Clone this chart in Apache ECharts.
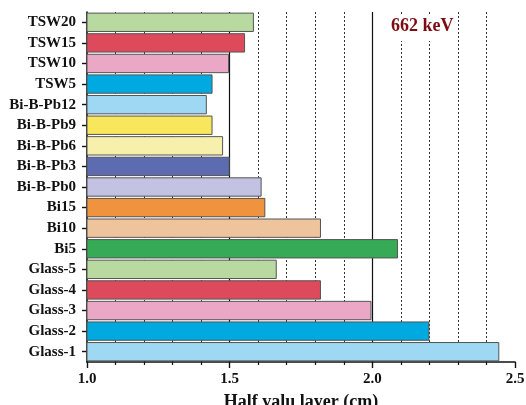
<!DOCTYPE html>
<html>
<head>
<meta charset="utf-8">
<script src="https://cdn.jsdelivr.net/npm/echarts@6/dist/echarts.min.js"></script>
<style>
  html, body { margin: 0; padding: 0; background: #fff; }
  #chart { width: 526px; height: 405px; }
</style>
</head>
<body>
<div id="chart"></div>
<script>
// bottom to top
const samples = [
  'Glass-1', 'Glass-2', 'Glass-3', 'Glass-4', 'Glass-5',
  'Bi5', 'Bi10', 'Bi15',
  'Bi-B-Pb0', 'Bi-B-Pb3', 'Bi-B-Pb6', 'Bi-B-Pb9', 'Bi-B-Pb12',
  'TSW5', 'TSW10', 'TSW15', 'TSW20'
]
const hvl = [
  2.445, 2.20, 1.997, 1.82, 1.665,
  2.09, 1.82, 1.625,
  1.612, 1.50, 1.477, 1.44, 1.42,
  1.44, 1.498, 1.554, 1.585
]
const barColors = [
  '#9fd8f2', '#00a9e0', '#eba8c6', '#dc4a5c', '#b8d9a0',
  '#36aa54', '#eec49c', '#f0933e',
  '#c3c2e2', '#5d6cb1', '#f7efac', '#f8e65c', '#9fd8f2',
  '#00a9e0', '#eba8c6', '#dc4a5c', '#b8d9a0'
]
const energyLabel = '662 keV'
const axisTitle = 'Half valu layer (cm)'

const serif = '"Liberation Serif", "Times New Roman", serif'

const chart = echarts.init(document.getElementById('chart'))

chart.setOption({
  animation: false,
  grid: { left: 87, right: 11, top: 12, bottom: 43, outerBoundsMode: 'none', containLabel: false },
  xAxis: {
    type: 'value',
    min: 1.0,
    max: 2.5,
    interval: 0.5,
    name: axisTitle,
    nameLocation: 'middle',
    nameGap: 31,
    nameTextStyle: { fontFamily: serif, fontWeight: 'bold', fontSize: 18, color: '#111' },
    axisLine: { show: true, lineStyle: { color: '#111', width: 1.6 } },
    axisTick: { show: true, length: 6, lineStyle: { color: '#111', width: 1.4 } },
    minorTick: { show: true, splitNumber: 5, length: 3, lineStyle: { color: '#111', width: 1.2 } },
    axisLabel: {
      margin: 10,
      fontFamily: serif,
      fontWeight: 'bold',
      fontSize: 15,
      color: '#111',
      formatter: v => v.toFixed(1)
    },
    splitLine: {
      show: true,
      showMinLine: false,
      showMaxLine: false,
      lineStyle: { color: '#111', width: 1.2 }
    },
    minorSplitLine: {
      show: true,
      lineStyle: { color: '#333', width: 1, type: [2, 2] }
    }
  },
  yAxis: {
    type: 'category',
    data: samples,
    axisLine: { show: true, lineStyle: { color: '#111', width: 1.6 } },
    axisTick: { show: true, alignWithLabel: true, length: 5, lineStyle: { color: '#111', width: 1.4 } },
    axisLabel: {
      interval: 0,
      margin: 11,
      fontFamily: serif,
      fontWeight: 'bold',
      fontSize: 15,
      color: '#111'
    },
    splitLine: { show: false }
  },
  graphic: [
    {
      type: 'text',
      left: 387,
      top: 14,
      z: 100,
      style: {
        text: energyLabel,
        fill: '#7b0d12',
        font: 'bold 18px ' + serif,
        backgroundColor: '#fff',
        padding: [3, 4, 6, 4]
      }
    }
  ],
  series: [
    {
      type: 'bar',
      data: hvl.map((v, i) => ({
        value: v,
        itemStyle: { color: barColors[i] }
      })),
      barCategoryGap: '6%',
      itemStyle: { borderColor: '#555', borderWidth: 1 }
    }
  ]
})
</script>
</body>
</html>
